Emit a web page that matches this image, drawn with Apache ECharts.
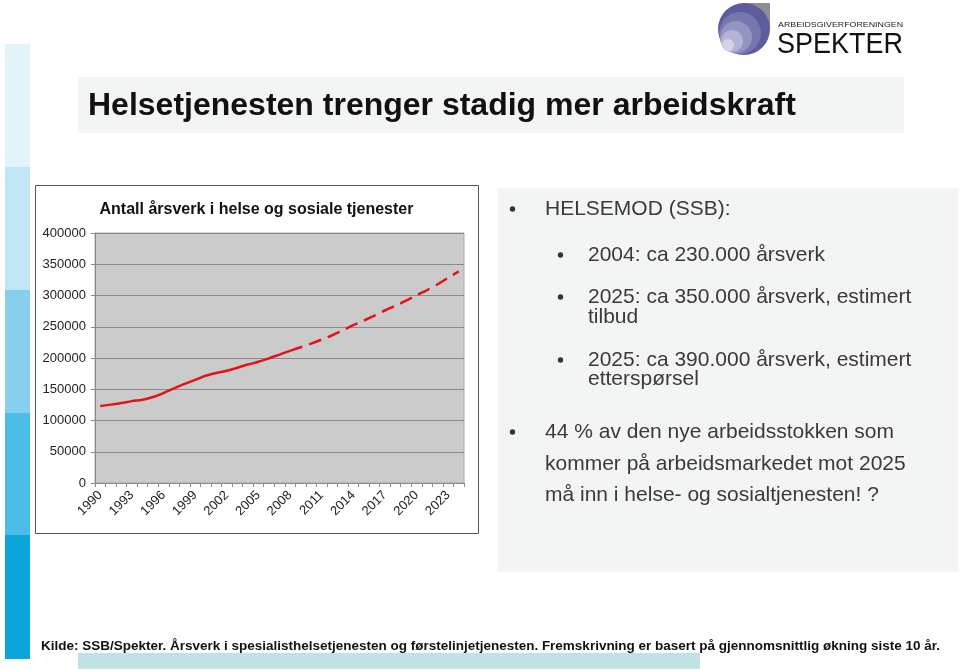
<!DOCTYPE html>
<html>
<head>
<meta charset="utf-8">
<script src="https://cdn.jsdelivr.net/npm/echarts@6/dist/echarts.min.js"></script>
<style>
html,body{margin:0;padding:0;background:#fff;}
#chart{width:960px;height:670px;}
</style>
</head>
<body>
<div id="chart"></div>
<script>
// ---- data ----
const years = ['1990','1991','1992','1993','1994','1995','1996','1997','1998','1999',
  '2000','2001','2002','2003','2004','2005','2006','2007','2008','2009',
  '2010','2011','2012','2013','2014','2015','2016','2017','2018','2019',
  '2020','2021','2022','2023','2024'];
// registered full-time equivalents 1990-2008
const historical = [123300,125400,128000,131000,133300,137500,144000,151500,158500,165000,
  171500,176000,179500,184500,189500,194000,199500,205500,211500];
// projection 2008-2024
const projected = [211500,217200,223100,229500,236400,244100,252500,259900,267700,276000,
  283600,291700,300500,308700,318000,328500,338500];
const yAxisMax = 400000;
const yAxisStep = 50000;

const slideTitle = 'Helsetjenesten trenger stadig mer arbeidskraft';
const chartTitle = 'Antall årsverk i helse og sosiale tjenester';
const footerText = 'Kilde: SSB/Spekter. Årsverk i spesialisthelsetjenesten og førstelinjetjenesten. Fremskrivning er basert på gjennomsnittlig økning siste 10 år.';
const bulletLines = [
  {level:1, lines:['HELSEMOD (SSB):']},
  {level:2, lines:['2004: ca 230.000 årsverk']},
  {level:2, lines:['2025: ca 350.000 årsverk, estimert','tilbud']},
  {level:2, lines:['2025: ca 390.000 årsverk, estimert','etterspørsel']},
  {level:1, lines:['44 % av den nye arbeidsstokken som','kommer på arbeidsmarkedet mot 2025','må inn i helse- og sosialtjenesten! ?']}
];

// ---- helpers ----
const ctx = document.createElement('canvas').getContext('2d');
function measure(text, font){ ctx.font = font; return ctx.measureText(text).width; }
const FF = '"Liberation Sans", Arial, sans-serif';

const histData = historical.concat(new Array(years.length - historical.length).fill('-'));
const projData = new Array(years.length - projected.length).fill('-').concat(projected);

// ---- decorations ----
const g = [];
// left strip
const strip = [[44,167,'#e2f3fa'],[167,290,'#c0e6f6'],[290,413,'#88cfee'],[413,535,'#4dbde8'],[535,659,'#0aa6db']];
strip.forEach(s=>g.push({type:'rect',z:-20,shape:{x:5,y:s[0],width:25,height:s[1]-s[0]},style:{fill:s[2]}}));
// title box
g.push({type:'rect',z:-20,shape:{x:78,y:77,width:826,height:56},style:{fill:'#f3f4f4'}});
g.push({type:'text',z:5,x:88,y:117-0.33*32,style:{text:slideTitle,font:'bold 32px '+FF,fill:'#111',align:'left',verticalAlign:'middle'}});
// text box
g.push({type:'rect',z:-20,shape:{x:498,y:188,width:460,height:384},style:{fill:'#f3f4f4'}});
// chart box
g.push({type:'rect',z:-15,shape:{x:35.5,y:185.5,width:443,height:348},style:{fill:'#fff',stroke:'#555',lineWidth:1}});
g.push({type:'text',z:5,x:256.5,y:215-0.33*16,style:{text:chartTitle,font:'bold 16px '+FF,fill:'#111',align:'center',verticalAlign:'middle'}});
// footer
g.push({type:'rect',z:-20,shape:{x:78,y:653,width:622,height:16},style:{fill:'#bfe2e5'}});
const footFont = 'bold 13.5px '+FF;
g.push({type:'text',z:5,x:41,y:651-0.33*13.5,scaleX:899/measure(footerText,footFont),style:{text:footerText,font:footFont,fill:'#111',align:'left',verticalAlign:'middle'}});
// bullets
const bodyFont = '21px '+FF;
const baselines = [[216],[262],[304,324],[367,386],[439,471,502]];
bulletLines.forEach((b,i)=>{
  const tx = b.level===1 ? 545 : 588;
  const bx = b.level===1 ? 512.5 : 560.5;
  g.push({type:'circle',z:5,shape:{cx:bx,cy:baselines[i][0]-7,r:2.7},style:{fill:'#333'}});
  b.lines.forEach((ln,j)=>{
    g.push({type:'text',z:5,x:tx,y:baselines[i][j]-0.33*21,style:{text:ln,font:bodyFont,fill:'#3a3a3a',align:'left',verticalAlign:'middle'}});
  });
});
// logo
g.push({type:'rect',z:-10,shape:{x:744,y:3,width:26,height:26},style:{fill:'#8d8d95'}});
[[744,29,26,'#5d5d9e'],[740,33,21,'#7777b0'],[736,37,16,'#9494c2'],[732,41,11,'#b3b3d5'],[728,45,6,'#d3d3e6']].forEach(c=>{
  g.push({type:'circle',z:-9,shape:{cx:c[0],cy:c[1],r:c[2]},style:{fill:c[3]}});
});
const smallFont = '8px '+FF;
g.push({type:'text',z:5,x:778,y:24.5,scaleX:125/measure('ARBEIDSGIVERFORENINGEN',smallFont),style:{text:'ARBEIDSGIVERFORENINGEN',font:smallFont,fill:'#222',align:'left',verticalAlign:'middle'}});
const bigFont = '30px '+FF;
g.push({type:'text',z:5,x:777,y:55-0.33*30,scaleX:126/measure('SPEKTER',bigFont),style:{text:'SPEKTER',font:bigFont,fill:'#111',align:'left',verticalAlign:'middle'}});

const chart = echarts.init(document.getElementById('chart'), null, {renderer:'canvas'});
chart.setOption({
  animation:false,
  backgroundColor:'#fff',
  graphic:{elements:g},
  grid:{left:95,top:233,width:369,height:250,show:true,backgroundColor:'#cbcbcb',borderColor:'#aaa',borderWidth:1,containLabel:false},
  xAxis:{
    type:'category',data:years,boundaryGap:true,
    axisLine:{show:true,lineStyle:{color:'#8a8a8a',width:1}},
    axisTick:{show:true,interval:0,length:4,lineStyle:{color:'#8a8a8a'}},
    axisLabel:{interval:2,rotate:45,margin:10,fontSize:13,color:'#222',fontFamily:'Liberation Sans'},
    splitLine:{show:false}
  },
  yAxis:{
    type:'value',min:0,max:yAxisMax,interval:yAxisStep,
    axisLine:{show:true,lineStyle:{color:'#8a8a8a',width:1}},
    axisTick:{show:true,length:4,lineStyle:{color:'#8a8a8a'}},
    axisLabel:{margin:9,fontSize:13,color:'#222',fontFamily:'Liberation Sans',formatter:v=>String(v)},
    splitLine:{show:true,lineStyle:{color:'#8a8a8a',width:1}}
  },
  series:[
    {type:'line',data:histData,showSymbol:false,smooth:0.3,z:3,
      lineStyle:{color:'#e3121c',width:2.5,type:'solid'}},
    {type:'line',data:projData,showSymbol:false,smooth:0.3,z:3,
      lineStyle:{color:'#e3121c',width:2.5,type:[13,7]}}
  ]
});
</script>
</body>
</html>
